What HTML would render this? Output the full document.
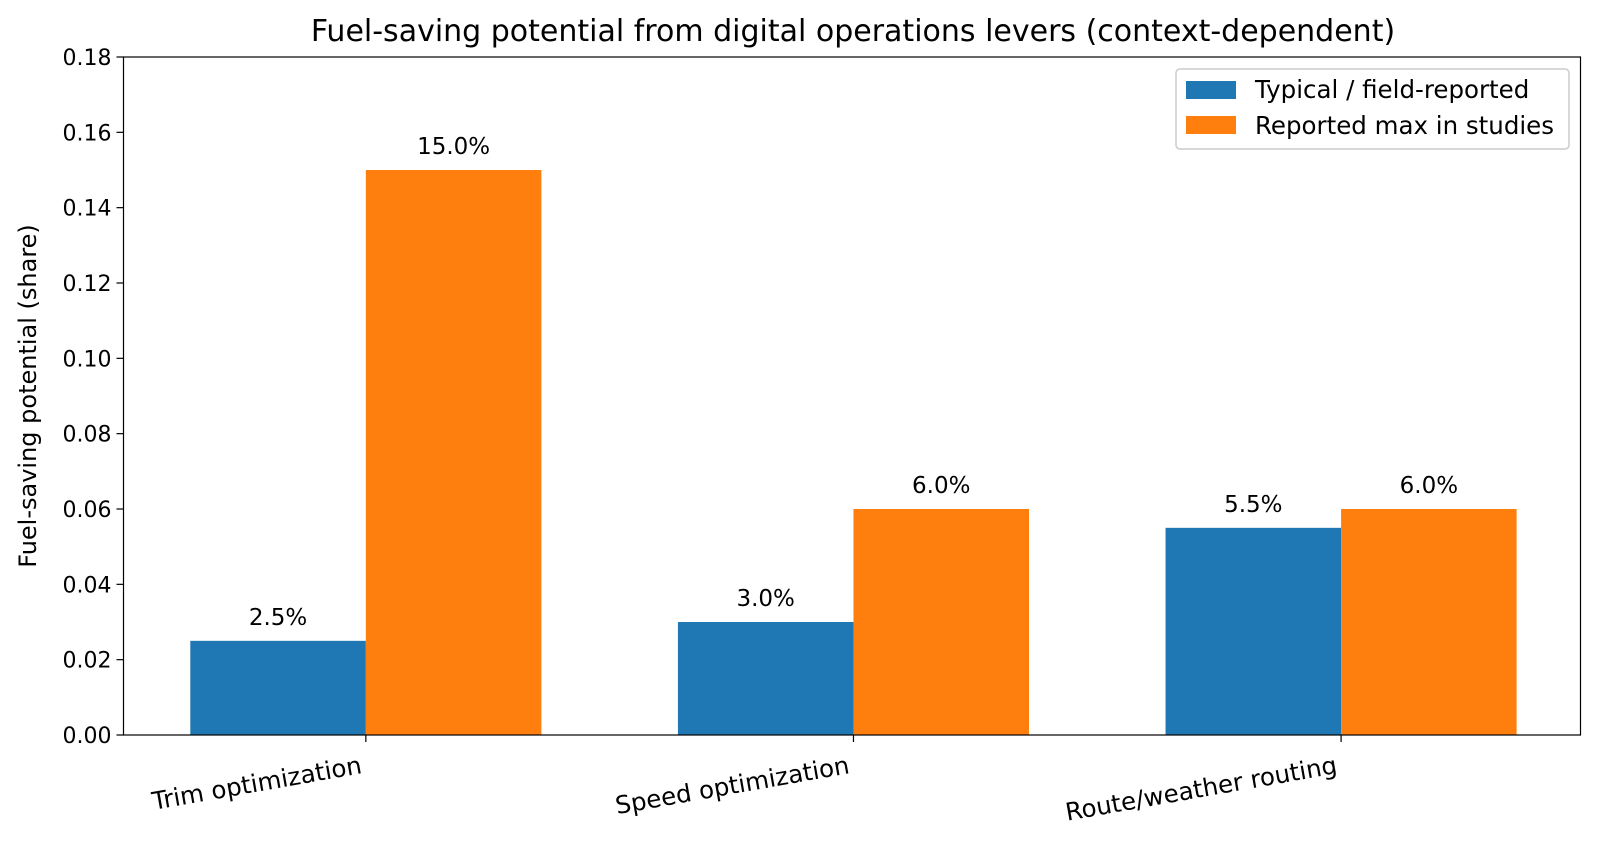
<!DOCTYPE html>
<html><head><meta charset="utf-8"><style>
body{margin:0;background:#fff;}
svg text{font-family:"DejaVu Sans","Liberation Sans",sans-serif;fill:#000;}
</style></head><body>
<svg id="chart" width="1600" height="843" xmlns="http://www.w3.org/2000/svg">
<rect width="1600" height="843" fill="#fff"/>
<text x="853" y="41" font-size="30" text-anchor="middle">Fuel-saving potential from digital operations levers (context-dependent)</text>
<g id="plot"></g>
<text transform="translate(36,396) rotate(-90)" font-size="24" text-anchor="middle">Fuel-saving potential (share)</text>
<g>
<rect x="1176" y="69" width="393" height="80" rx="4" fill="#fff" stroke="#ccc" stroke-width="1.5"/>
<rect x="1186" y="81" width="50" height="18" fill="#1f77b4"/>
<text x="1255" y="98" font-size="24.5">Typical / field-reported</text>
<rect x="1186" y="116" width="50" height="18" fill="#ff7f0e"/>
<text x="1255" y="134" font-size="24.5">Reported max in studies</text>
</g>
</svg>
<script>
const categories=["Trim optimization","Speed optimization","Route/weather routing"];
const typical=[0.025,0.03,0.055];
const reportedMax=[0.15,0.06,0.06];
const yTicks=[0,0.02,0.04,0.06,0.08,0.10,0.12,0.14,0.16,0.18];
const L=123.5,R=1580.5,T=57,B=735,yMax=0.18,x0=-0.497,x1=2.491,bw=0.36;
const ns="http://www.w3.org/2000/svg";
const g=document.getElementById('plot');
function X(v){return L+(v-x0)/(x1-x0)*(R-L);}
function Y(v){return B-v/yMax*(B-T);}
function mk(t,a){const e=document.createElementNS(ns,t);for(const k in a)e.setAttribute(k,a[k]);g.appendChild(e);return e;}
yTicks.forEach(v=>{
 const tk=mk('line',{x1:L-7,x2:L,y1:Y(v),y2:Y(v),stroke:'#000','stroke-width':1.2});
 
 
 const t=mk('text',{x:L-12,y:Y(v)+8,'font-size':22,'text-anchor':'end'});
 
 
 t.textContent=v.toFixed(2);
});
function bars(vals,off,color,name){
 vals.forEach((v,i)=>{
  const xl=X(i+off),xr=X(i+off+bw);
  const r=mk('rect',{x:xl,y:Y(v),width:xr-xl,height:B-Y(v),fill:color});
  
  
  const t=mk('text',{x:(xl+xr)/2,y:Y(v)-16,'font-size':23,'text-anchor':'middle'});
  
  
  t.textContent=(v*100).toFixed(1)+'%';
 });
}
bars(typical,-bw,'#1f77b4','typical');
bars(reportedMax,0,'#ff7f0e','max');
categories.forEach((c,i)=>{
 const x=X(i);
 const tk=mk('line',{x1:x,x2:x,y1:B,y2:B+7,stroke:'#000','stroke-width':1.2});
 
 
 const t=mk('text',{transform:`translate(${x-3},${B+38}) rotate(-10)`,'font-size':24.5,'text-anchor':'end'});
 
 
 t.textContent=c;
});
const f=mk('rect',{x:L,y:T,width:R-L,height:B-T,fill:'none',stroke:'#000','stroke-width':1.2});


</script>
</body></html>
